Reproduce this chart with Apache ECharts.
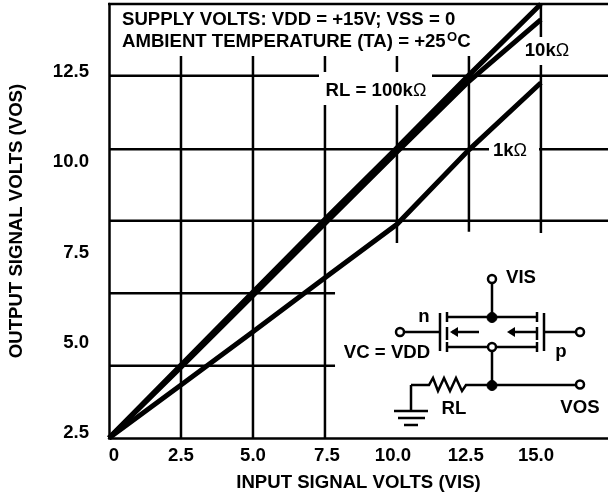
<!DOCTYPE html>
<html><head><meta charset="utf-8">
<style>html,body{margin:0;padding:0;background:#fff}#c{width:608px;height:495px}</style>
<script src="https://cdn.jsdelivr.net/npm/echarts@6/dist/echarts.min.js"></script>
</head><body><div id="c"></div>
<script>
const xTickLabels = ['0','2.5','5.0','7.5','10.0','12.5','15.0'];
const xTickLabelAt = [0.17,2.5,5.0,7.57,9.86,12.39,14.83];
const yTickLabels = ['2.5','5.0','7.5','10.0','12.5'];
const yTickValues = [2.5,5,7.5,10,12.5];
const inputVolts = [0,2.5,5,7.5,10,12.5,15];
const rl100k = [2.36,4.38,6.40,8.42,10.40,12.41,14.38];
const rl10k  = [2.36,4.32,6.31,8.30,10.28,12.24,13.95];
const rl1k   = [2.36,3.83,5.30,6.80,8.28,10.34,12.20];
const hGrid = [[12.39,0,17.33],[10.36,0,17.33],[8.38,0,17.33],[6.37,0,7.85],[4.36,0,7.85]];
const vGrid = [[2.5,2.36,12.94],[5,2.36,12.94],[7.5,2.36,12.94],[10,7.76,12.94],[12.5,8.07,12.94],[15,8.04,14.38]];

const FONT='"Liberation Sans",Arial,sans-serif';
const FS=18.6;
const gridSeries=[];
hGrid.forEach(h=>gridSeries.push(seg([[h[1],h[0]],[h[2],h[0]]])));
vGrid.forEach(v=>gridSeries.push(seg([[v[0],v[1]],[v[0],v[2]]])));
function seg(d){return {type:'line',data:d,symbol:'none',silent:true,z:1,clip:true,lineStyle:{color:'#000',width:2.5,cap:'butt'}};}
function curve(name,vals,w){return {type:'line',name,data:inputVolts.map((x,i)=>[x,vals[i]]),symbol:'none',z:3,clip:false,lineStyle:{color:'#000',width:w,join:'miter',cap:'butt'}};}

const txt=(x,y,text,extra)=>({type:'text',x,y,z:20,style:Object.assign({text,font:'bold '+FS+'px '+FONT,fill:'#000',align:'center',verticalAlign:'middle'},extra||{})});
const rule=(x1,y1,x2,y2,w)=>({type:'line',z:20,shape:{x1,y1,x2,y2},style:{stroke:'#000',lineWidth:w||2.5}});
const dot=(cx,cy,r,open)=>({type:'circle',z:21,shape:{cx,cy,r},style:{fill:open?'#fff':'#000',stroke:'#000',lineWidth:open?2.5:1}});
const omega={om:{font:'18px '+FONT,fill:'#000'}};
const maskRect=(x,y,width,height)=>({type:'rect',z:10,shape:{x,y,width,height},style:{fill:'#fff'}});
const rich=(x,y,text)=>({type:'text',x,y,z:20,style:{text,font:'bold '+FS+'px '+FONT,fill:'#000',align:'center',verticalAlign:'middle',rich:omega}});

const graphics=[
 maskRect(319,72,113,33),maskRect(489,140,50,18),maskRect(525,37,70,28),
 txt(122,20,'SUPPLY VOLTS: VDD = +15V; VSS = 0',{align:'left'}),
 txt(122,42,'AMBIENT TEMPERATURE (TA) = +25',{align:'left'}),
 txt(452,37,'O',{font:'bold 13px '+FONT}),
 txt(464,42,'C'),
 rich(376,91,'RL = 100k{om|Ω}'),
 rich(547,51,'10k{om|Ω}'),
 rich(510,151,'1k{om|Ω}'),
 // switch schematic
 rule(492,279,492,318),rule(447,317,537,317),rule(447,347,537,347),rule(492,347,492,386),rule(469,385,576,385),
 rule(404,332,440,332),rule(440,313,440,351),
 rule(447,312,447,322),rule(447,327,447,340),rule(447,342,447,352),
 rule(537,312,537,322),rule(537,327,537,340),rule(537,342,537,352),
 rule(544,313,544,351),rule(544,332,576,332),
 rule(452,332,479,332),rule(514,332,537,332),
 {type:'polygon',z:20,shape:{points:[[450,332],[458,327],[458,337]]},style:{fill:'#000'}},
 {type:'polygon',z:20,shape:{points:[[507,332],[515,327],[515,337]]},style:{fill:'#000'}},
 {type:'polyline',z:20,shape:{points:[[411,385],[429,385],[433,378],[438,391],[444,378],[450,391],[456,378],[462,391],[466,385],[469,385]]},style:{stroke:'#000',lineWidth:2.5,fill:'none'}},
 rule(411,385,411,411),rule(394,411,428,411),rule(398,418,425,418),rule(404,425,418,425),
 dot(492,279,4,true),dot(400,332,4,true),dot(580,332,4,true),dot(580,384.5,4,true),dot(492,347,4,true),
 dot(492,317.5,5,false),dot(492,385.5,5,false),
 txt(521,278,'VIS'),txt(424,317,'n'),txt(387,353,'VC = VDD'),txt(561,352,'p'),txt(454,409,'RL'),txt(580,408,'VOS'),
 rule(108,4,608,4,2.5)
];

const chart=echarts.init(document.getElementById('c'),null,{renderer:'canvas'});
chart.setOption({
 animation:false,
 backgroundColor:'#fff',
 grid:{left:109,top:4,width:499,height:434,containLabel:false,outerBoundsMode:'none'},
 xAxis:{type:'value',min:0,max:17.33,
   name:'INPUT SIGNAL VOLTS (VIS)',nameLocation:'middle',nameGap:35,
   nameTextStyle:{fontWeight:'bold',fontSize:FS,fontFamily:FONT,color:'#000'},
   axisLine:{show:true,onZero:false,lineStyle:{color:'#000',width:2.5}},axisTick:{show:false},splitLine:{show:false},
   axisLabel:{customValues:xTickLabelAt,color:'#000',fontWeight:'bold',fontSize:FS,fontFamily:FONT,margin:8,showMinLabel:true,showMaxLabel:true,
     formatter:v=>xTickLabels[xTickLabelAt.indexOf(v)]}},
 yAxis:{type:'value',min:2.36,max:14.38,
   name:'OUTPUT SIGNAL VOLTS (VOS)',nameLocation:'middle',nameGap:83,nameRotate:90,
   nameTextStyle:{fontWeight:'bold',fontSize:FS,fontFamily:FONT,color:'#000'},
   axisLine:{show:true,onZero:false,lineStyle:{color:'#000',width:2.5}},axisTick:{show:false},splitLine:{show:false},
   axisLabel:{customValues:yTickValues,color:'#000',fontWeight:'bold',fontSize:FS,fontFamily:FONT,margin:20,
     formatter:v=>yTickLabels[yTickValues.indexOf(v)]}},
 series:[...gridSeries,curve('RL = 100kΩ',rl100k,5),curve('10kΩ',rl10k,5),curve('1kΩ',rl1k,5)],
 graphic:graphics
});
</script></body></html>
